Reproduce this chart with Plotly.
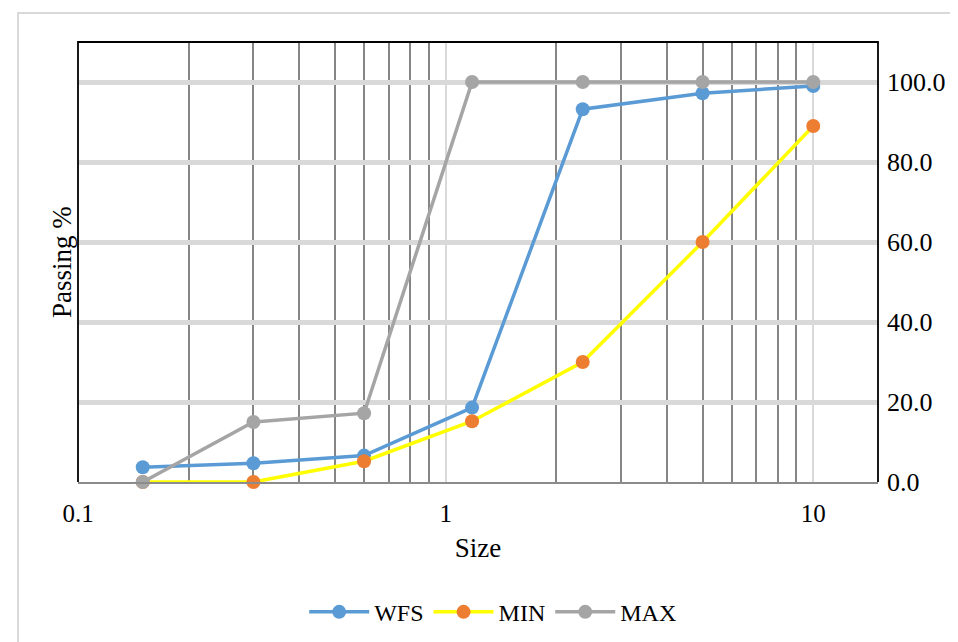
import plotly.graph_objects as go

sizes = [0.15, 0.3, 0.6, 1.18, 2.36, 5, 10]
wfs = [3.7, 4.7, 6.6, 18.6, 93.2, 97.2, 99.0]
min_vals = [0, 0, 5.2, 15.2, 30, 60, 89]
max_vals = [0, 15, 17.2, 100, 100, 100, 100]

x_major = [0.1, 1, 10]
x_major_labels = ["0.1", "1", "10"]
x_minor = [0.2, 0.3, 0.4, 0.5, 0.6, 0.7, 0.8, 0.9, 2, 3, 4, 5, 6, 7, 8, 9]
y_ticks = [0, 20, 40, 60, 80, 100]
y_tick_labels = ["0.0", "20.0", "40.0", "60.0", "80.0", "100.0"]
y_grid = [20, 40, 60, 80, 100]

FONT = "Liberation Serif"

fig = go.Figure()
series = [
    ("WFS", wfs, "#5B9BD5", "#5B9BD5"),
    ("MIN", min_vals, "#FFFF00", "#ED7D31"),
    ("MAX", max_vals, "#A5A5A5", "#A5A5A5"),
]
for name, vals, lc, mc in series:
    fig.add_trace(go.Scatter(
        x=sizes, y=vals, name=name, mode="lines+markers",
        line=dict(color=lc, width=3.5),
        marker=dict(color=mc, size=14),
        cliponaxis=False,
    ))

fig.update_layout(
    width=950, height=634,
    margin=dict(l=70, r=80, t=34, b=160, autoexpand=False),
    paper_bgcolor="white", plot_bgcolor="white",
    font=dict(family=FONT, size=24, color="black"),
    showlegend=True,
    legend=dict(orientation="h", x=0.519, xanchor="center", y=-0.296, yanchor="middle",
                font=dict(family=FONT, size=24, color="black"),
                itemwidth=60, tracegroupgap=0),
    xaxis=dict(
        type="log", range=[-1, 1.1761],
        tickmode="array", tickvals=x_major, ticktext=x_major_labels,
        tickfont=dict(family=FONT, size=25),
        showgrid=True, gridcolor="#D9D9D9", gridwidth=1.5,
        minor=dict(tickmode="array", tickvals=x_minor, showgrid=True,
                   gridcolor="#868686", gridwidth=1.5, ticks=""),
        showline=True, linecolor="#8C8C8C", linewidth=2, mirror=False,
        ticks="", ticklabelstandoff=8,
        zeroline=False,
        title=dict(text="Size", font=dict(family=FONT, size=27), standoff=12),
    ),
    yaxis=dict(
        side="right", range=[0, 110],
        tickmode="array", tickvals=y_ticks, ticktext=y_tick_labels,
        tickfont=dict(family=FONT, size=26),
        showgrid=False,
        minor=dict(tickmode="array", tickvals=y_grid, showgrid=True,
                   gridcolor="#D9D9D9", gridwidth=4.5, ticks=""),
        showline=False, zeroline=False, ticks="", ticklabelstandoff=8,
    ),
    annotations=[dict(
        text="Passing %", xref="paper", yref="paper", x=-0.02, y=0.5,
        showarrow=False, textangle=-90, xanchor="center", yanchor="middle",
        font=dict(family=FONT, size=27, color="black"),
    )],
    shapes=[
        dict(type="path", xref="paper", yref="paper",
             path="M 0 0 L 0 1 L 1 1 L 1 0",
             line=dict(color="black", width=1.8), layer="above"),
        dict(type="rect", xref="paper", yref="paper",
             x0=-0.075, y0=-0.5, x1=1.2, y1=1.066,
             line=dict(color="#D9D9D9", width=2), layer="below"),
    ],
)

fig.write_html("out.html")
